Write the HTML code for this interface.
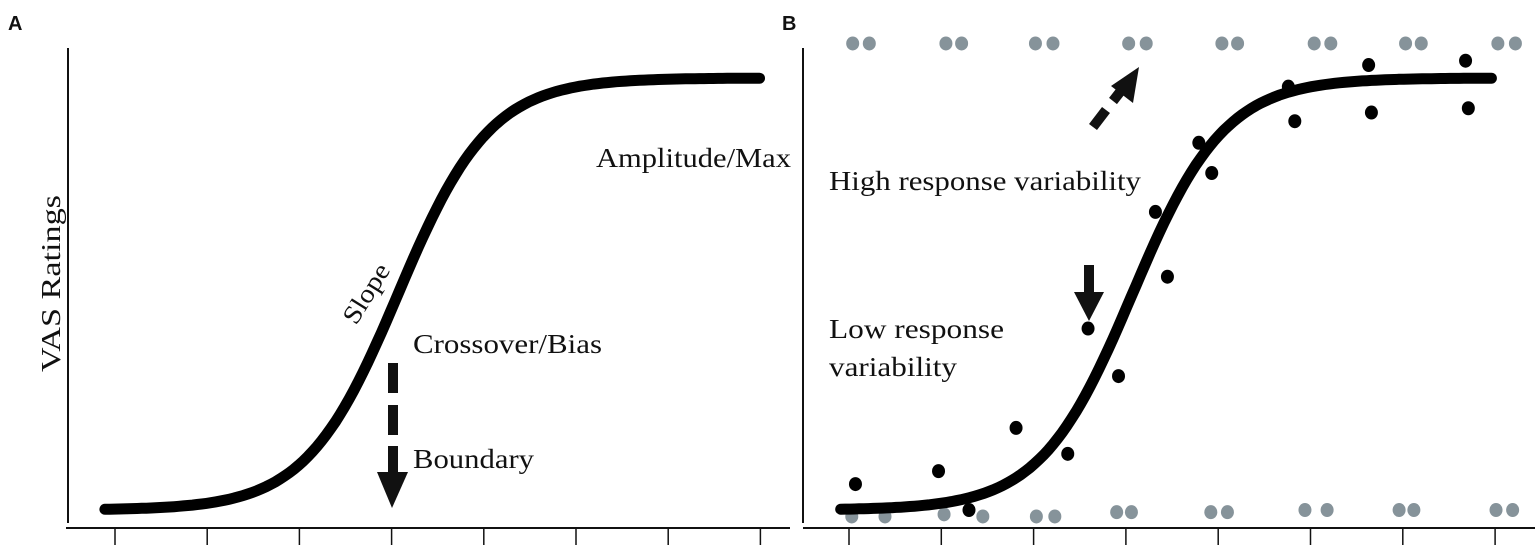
<!DOCTYPE html>
<html><head><meta charset="utf-8"><style>
html,body{margin:0;padding:0;background:#fff;}
svg{display:block;}
text{font-family:"Liberation Serif",serif;fill:#111;}
</style></head><body>
<svg id="fig" width="1535" height="547" viewBox="0 0 1535 547">
<g id="static">
<text x="8" y="30" style="font-family:'Liberation Sans',sans-serif;font-weight:bold;font-size:20px">A</text>
<text x="782" y="30" style="font-family:'Liberation Sans',sans-serif;font-weight:bold;font-size:20px">B</text>
<line x1="68" y1="48" x2="68" y2="523" stroke="#111" stroke-width="2"/>
<line x1="66" y1="528" x2="782" y2="528" stroke="#111" stroke-width="2"/>
<line x1="803" y1="48" x2="803" y2="523" stroke="#111" stroke-width="2"/>
<line x1="803" y1="528" x2="1535" y2="528" stroke="#111" stroke-width="2"/>
<line x1="770" y1="528" x2="790" y2="528" stroke="#111" stroke-width="2"/>
<text transform="translate(60,372) rotate(-90)" textLength="177" lengthAdjust="spacingAndGlyphs" style="font-size:27px">VAS Ratings</text>
<text x="596" y="167" textLength="195" lengthAdjust="spacingAndGlyphs" style="font-size:27px">Amplitude/Max</text>
<text transform="translate(356,326) rotate(-58)" textLength="66" lengthAdjust="spacingAndGlyphs" style="font-size:26px">Slope</text>
<text x="413" y="353" textLength="189" lengthAdjust="spacingAndGlyphs" style="font-size:27px">Crossover/Bias</text>
<text x="413" y="468" textLength="121" lengthAdjust="spacingAndGlyphs" style="font-size:27px">Boundary</text>
<text x="829" y="190" textLength="312" lengthAdjust="spacingAndGlyphs" style="font-size:27px">High response variability</text>
<text x="829" y="338" textLength="175" lengthAdjust="spacingAndGlyphs" style="font-size:27px">Low response</text>
<text x="829" y="376" textLength="128" lengthAdjust="spacingAndGlyphs" style="font-size:27px">variability</text>
<g>
<rect x="388" y="363" width="10" height="30" fill="#111"/>
<rect x="388" y="405" width="10" height="30" fill="#111"/>
<rect x="388" y="446" width="10" height="28" fill="#111"/>
<polygon points="377,472 408,472 392,508" fill="#111"/>
</g>
<g>
<rect x="1084" y="265" width="10" height="30" fill="#111"/>
<polygon points="1074,292 1104,292 1089,321" fill="#111"/>
</g>
<g>
<line x1="1093" y1="127" x2="1106" y2="110" stroke="#111" stroke-width="10"/>
<line x1="1113" y1="101" x2="1120" y2="92" stroke="#111" stroke-width="10"/>
<polygon points="1139,67 1133,103 1111,86" fill="#111"/>
</g>
</g>
<g id="dyn"></g>
</svg>
<script>
// tick positions (category index) for both panels
const ticks = [0,1,2,3,4,5,6,7];
// sigmoid parameters: [floor, ceiling, midpoint, spread] in data units (0..1 rating, 0..7 stimulus)
const curveFloor = [0.0];
const curveCeil = [1.0];
const curveMid = [3.07];
const curveSpread = [0.5];
// panel B observed responses (black)
const obsX = [0.07,0.97,1.3,1.81,2.37,2.59,2.92,3.32,3.45,3.79,3.93,4.76,4.83,5.63,5.66,6.68,6.71];
const obsY = [0.06,0.09,0.0,0.19,0.13,0.42,0.31,0.69,0.54,0.85,0.78,0.98,0.90,1.03,0.92,1.04,0.93];
// panel B high-variability responses (gray)
const grayTopX = [0.04,0.22,1.05,1.22,2.02,2.21,3.03,3.22,4.04,4.21,5.04,5.22,6.03,6.2,7.03,7.22];
const grayTopY = [1.08,1.08,1.08,1.08,1.08,1.08,1.08,1.08,1.08,1.08,1.08,1.08,1.08,1.08,1.08,1.08];
const grayBotX = [0.03,0.39,1.03,1.45,2.03,2.23,2.9,3.06,3.92,4.1,4.94,5.18,5.96,6.12,7.01,7.19];
const grayBotY = [-0.015,-0.015,-0.01,-0.015,-0.015,-0.015,-0.005,-0.005,-0.005,-0.005,0,0,0,0,0,0];

const NS='http://www.w3.org/2000/svg';
const dyn=document.getElementById('dyn');
function yS(v){return 510-v*432;}
function xA(v){return 115+v*92.2;}
function xB(v){return 849+v*92.3;}
function sig(x){return curveFloor[0]+(curveCeil[0]-curveFloor[0])/(1+Math.exp(-(x-curveMid[0])/curveSpread[0]));}
function mk(tag,attrs){const e=document.createElementNS(NS,tag);for(const k in attrs)e.setAttribute(k,attrs[k]);dyn.appendChild(e);return e;}

ticks.forEach(t=>{
  let a=mk('line',{x1:xA(t),x2:xA(t),y1:528,y2:545,stroke:'#111','stroke-width':1.5});
  
  
  let b=mk('line',{x1:xB(t),x2:xB(t),y1:528,y2:545,stroke:'#111','stroke-width':1.5});
  
  
});

function curvePath(xf,x0,x1){
  let d='';
  for(let x=x0;x<=x1+1e-9;x+=0.05){d+=(d?'L':'M')+xf(x).toFixed(1)+','+yS(sig(x)).toFixed(1);}
  return d;
}
let ca=mk('path',{d:curvePath(xA,-0.11,7.02),fill:'none',stroke:'#000','stroke-width':11,'stroke-linecap':'round'});



function dots(xs,ys,color,name){
  xs.forEach((x,i)=>{
    let c=mk('ellipse',{cx:xB(x),cy:yS(ys[i]),rx:6.5,ry:7,fill:color});
    
    
  });
}
dots(grayTopX,grayTopY,'#86939a','high-variability-point');
dots(grayBotX,grayBotY,'#86939a','high-variability-point');
let cb=mk('path',{d:curvePath(xB,-0.09,7.0),fill:'none',stroke:'#000','stroke-width':11,'stroke-linecap':'round'});


dots(obsX,obsY,'#000','response-point');
</script>
</body></html>
